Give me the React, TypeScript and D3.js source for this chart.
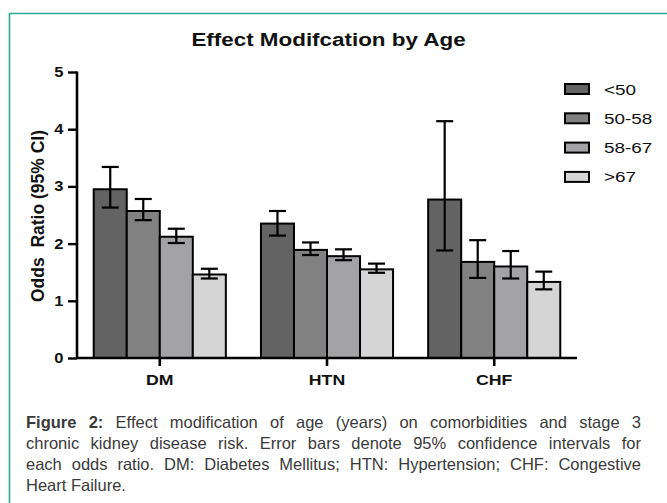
import React, { useLayoutEffect, useRef } from "react";
import * as d3 from "d3";

const titleText = "Effect Modifcation by Age";
const yAxisTitle = "Odds  Ratio (95% CI)";
const categories = ["DM", "HTN", "CHF"];
const ageGroups = ["<50", "50-58", "58-67", ">67"];
const yTicks = [0, 1, 2, 3, 4, 5];

// odds ratios per age group, in category order DM, HTN, CHF
const orLt50 = [2.95, 2.35, 2.77];
const or50to58 = [2.57, 1.89, 1.68];
const or58to67 = [2.12, 1.78, 1.6];
const orGt67 = [1.46, 1.55, 1.33];

const ciLowLt50 = [2.63, 2.14, 1.88];
const ciHighLt50 = [3.34, 2.57, 4.14];
const ciLow50to58 = [2.41, 1.8, 1.4];
const ciHigh50to58 = [2.78, 2.02, 2.06];
const ciLow58to67 = [2.01, 1.71, 1.39];
const ciHigh58to67 = [2.26, 1.9, 1.87];
const ciLowGt67 = [1.39, 1.49, 1.2];
const ciHighGt67 = [1.56, 1.65, 1.51];

const groupColors = ["#636363", "#818181", "#a3a3a6", "#d5d5d5"];

const captionBold = "Figure 2:";
const captionLines = [
  " Effect modification of age (years) on comorbidities and stage 3",
  "chronic kidney disease risk. Error bars denote 95% confidence intervals for",
  "each odds ratio. DM: Diabetes Mellitus; HTN: Hypertension; CHF: Congestive",
  "Heart Failure.",
];

const seriesValues = [orLt50, or50to58, or58to67, orGt67];
const seriesLow = [ciLowLt50, ciLow50to58, ciLow58to67, ciLowGt67];
const seriesHigh = [ciHighLt50, ciHigh50to58, ciHigh58to67, ciHighGt67];

const W = 667;
const H = 503;
const plotLeft = 77;
const plotRight = 577;
const plotTop = 72;
const plotBottom = 358;
const capLeft = 26;
const capRight = 641;
const SX = 1.18; // horizontal stretch of the original figure's lettering

export default function App() {
  const yAxisRef = useRef<SVGGElement>(null);
  const xAxisRef = useRef<SVGGElement>(null);
  const capRefs = useRef<(SVGTextElement | null)[]>([]);

  const x = d3
    .scaleBand<string>()
    .domain(categories)
    .range([plotLeft, plotRight])
    .paddingInner(0.21)
    .paddingOuter(0.1);
  const xs = d3
    .scaleBand<string>()
    .domain(ageGroups)
    .range([0, x.bandwidth()]);
  const y = d3.scaleLinear().domain([0, 5]).range([plotBottom, plotTop]);

  useLayoutEffect(() => {
    if (yAxisRef.current) {
      const g = d3.select(yAxisRef.current);
      g.call(d3.axisLeft(y).tickValues(yTicks).tickFormat(() => "").tickSize(9));
      g.select(".domain").attr("stroke", "#000").attr("stroke-width", 2.6).attr("d", `M0,${plotTop - 0.5}V${plotBottom + 1}`);
      g.selectAll(".tick line").attr("stroke", "#000").attr("stroke-width", 2.4);
      g.selectAll(".tick text").remove();
    }
    if (xAxisRef.current) {
      const g = d3.select(xAxisRef.current);
      g.call(d3.axisBottom(x).tickSize(8).tickFormat(() => ""));
      g.select(".domain").attr("stroke", "#000").attr("stroke-width", 2.6).attr("d", `M${plotLeft - 1},0H${plotRight}`);
      g.selectAll(".tick line").attr("stroke", "#000").attr("stroke-width", 2.6);
      g.selectAll(".tick text").remove();
    }
    // justify caption lines
    capRefs.current.forEach((t, i) => {
      if (!t || i === captionLines.length - 1) return;
      t.setAttribute("word-spacing", "0");
      const natural = t.getComputedTextLength();
      const full = (i === 0 ? captionBold : "") + captionLines[i];
      const spaces = (full.match(/ /g) || []).length;
      const extra = (capRight - capLeft - natural) / spaces;
      t.setAttribute("word-spacing", String(extra));
    });
  });

  const capFont = "'Liberation Sans', Arial, sans-serif";

  return (
    <svg
      width={W}
      height={H}
      style={{ position: "absolute", left: 0, top: 0, background: "#fff" }}
      fontFamily="'Liberation Sans', Arial, sans-serif"
    >
      <rect x={0} y={0} width={W} height={H} fill="#fff" />
      <path d={`M${W + 5},13.5H9.5V${H + 5}`} fill="none" stroke="#2aa98f" strokeWidth={1.6} />

      <text
        transform={`translate(328.5,45.5) scale(${SX},1)`}
        textAnchor="middle"
        fontWeight="bold"
        fontSize={19}
        fill="#111"
      >
        {titleText}
      </text>

      <text
        transform={`translate(43.5,${216}) rotate(-90)`}
        textAnchor="middle"
        fontWeight="bold"
        fontSize={17.5}
        fill="#111"
        style={{ whiteSpace: "pre" }}
      >
        {yAxisTitle}
      </text>

      {/* bars */}
      {categories.map((c, ci) => (
        <g key={c} transform={`translate(${x(c)},0)`}>
          {ageGroups.map((a, ai) => {
            const v = seriesValues[ai][ci];
            const bx = xs(a)!;
            return (
              <rect
                key={a}
                x={bx}
                y={y(v)}
                width={xs.bandwidth()}
                height={y(0) - y(v)}
                fill={groupColors[ai]}
                stroke="#000"
                strokeWidth={2}
              />
            );
          })}
          {ageGroups.map((a, ai) => {
            const cx = xs(a)! + xs.bandwidth() / 2;
            const lo = y(seriesLow[ai][ci]);
            const hi = y(seriesHigh[ai][ci]);
            const cw = 8.5;
            return (
              <g key={a} stroke="#000" strokeWidth={2.2} fill="none">
                <line x1={cx} x2={cx} y1={hi} y2={lo} />
                <line x1={cx - cw} x2={cx + cw} y1={hi} y2={hi} />
                <line x1={cx - cw} x2={cx + cw} y1={lo} y2={lo} />
              </g>
            );
          })}
        </g>
      ))}

      <g ref={yAxisRef} transform={`translate(${plotLeft},0)`} />
      <g ref={xAxisRef} transform={`translate(0,${plotBottom})`} />

      {/* y tick labels */}
      {yTicks.map((t) => (
        <text
          key={t}
          transform={`translate(63.5,${y(t) + 5}) scale(${SX},1)`}
          textAnchor="end"
          fontWeight="bold"
          fontSize={14}
          fill="#111"
        >
          {t}
        </text>
      ))}

      {/* x category labels */}
      {categories.map((c) => (
        <text
          key={c}
          transform={`translate(${x(c)! + x.bandwidth() / 2},385) scale(${SX},1)`}
          textAnchor="middle"
          fontWeight="bold"
          fontSize={15}
          fill="#111"
        >
          {c}
        </text>
      ))}

      {/* legend */}
      {ageGroups.map((a, i) => (
        <g key={a} transform={`translate(565,${89 + i * 29.3})`}>
          <rect x={0} y={-5} width={24} height={10} fill={groupColors[i]} stroke="#000" strokeWidth={2} />
          <text transform={`translate(39,5.5) scale(1.22,1)`} fontSize={15.5} fill="#111">
            {a}
          </text>
        </g>
      ))}

      {/* caption */}
      {captionLines.map((line, i) => (
        <text
          key={i}
          ref={(el) => {
            capRefs.current[i] = el;
          }}
          x={capLeft}
          y={428 + i * 21}
          fontFamily={capFont}
          fontSize={16.5}
          fill="#3a3a3a"
          style={{ whiteSpace: "pre" }}
        >
          {i === 0 ? <tspan fontWeight="bold">{captionBold}</tspan> : null}
          {line}
        </text>
      ))}
    </svg>
  );
}
